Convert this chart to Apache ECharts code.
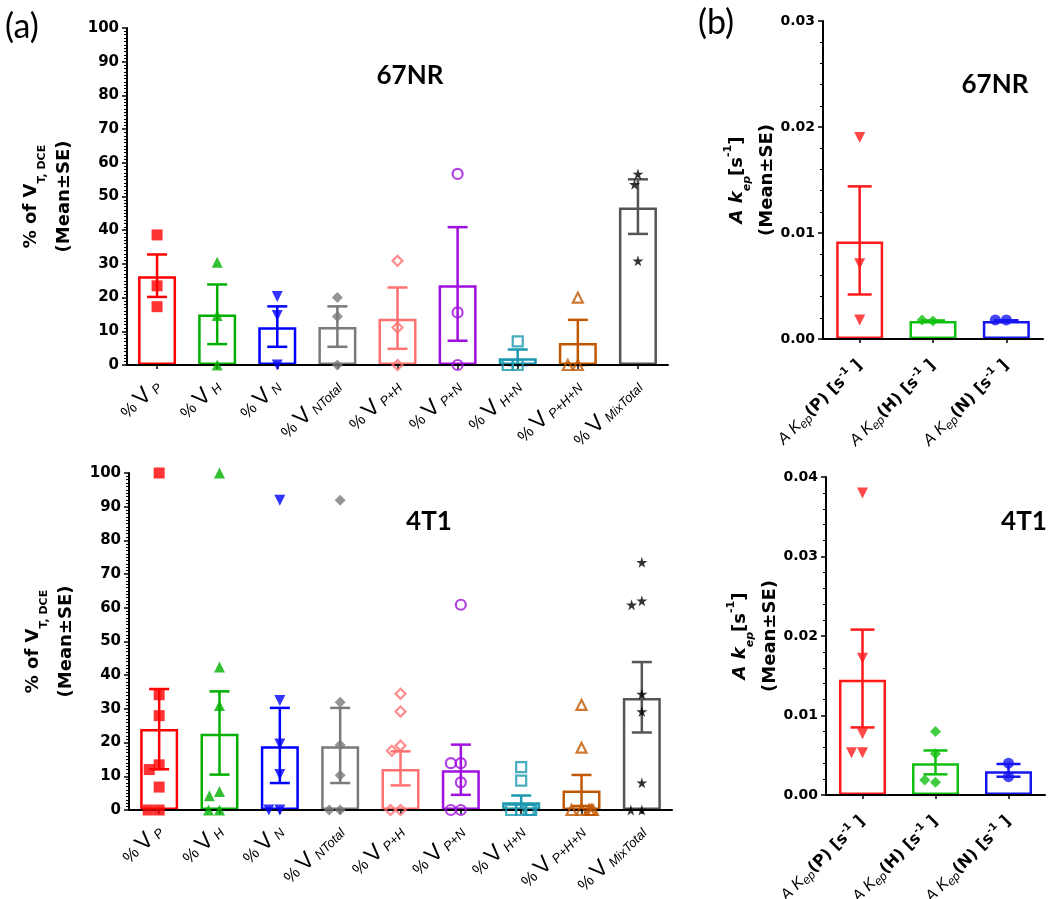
<!DOCTYPE html>
<html><head><meta charset="utf-8">
<script src="https://cdn.jsdelivr.net/npm/echarts@6/dist/echarts.min.js"></script>
<style>html,body{margin:0;padding:0;background:#fff}#c{width:1050px;height:899px}</style>
</head><body><div id="c"></div>
<script>
// ---------- panel (a): categories ----------
const groupsA = ['P','H','N','NTotal','P+H','P+N','H+N','P+H+N','MixTotal'];
const colorsA = ['#FF0000','#00B000','#0000FF','#7A7A7A','#FF7272','#A010E0','#1C98B0','#C05800','#555555'];
const markerColorsA = ['#FF0000','#00B000','#0000FF','#7A7A7A','#FF7272','#A010E0','#1C98B0','#C05800','#000000'];
const STAR = 'path://M50,0 L61,35 L98,35 L68,57 L79,91 L50,70 L21,91 L32,57 L2,35 L39,35 Z';
const symbolsA = ['rect','triangle','triangle','diamond','diamond','circle','rect','triangle',STAR];
const rotateA = [0,0,180,0,0,0,0,0,0];
const hollowA = [false,false,false,false,true,true,true,true,false];

// 67NR (top-left)
const meanA1 = [26.3, 15.0, 11.2, 11.3, 13.7, 23.7, 2.0, 6.5, 46.7];
const lowA1  = [20.2, 6.2, 5.4, 5.4, 4.8, 7.2, 0.0, 0.0, 38.9];
const highA1 = [32.8, 23.9, 17.4, 17.4, 23.0, 40.9, 4.6, 13.4, 55.1];
const ptsA1 = [
  [38.6, 23.5, 17.3],
  [30.5, 14.7, 0],
  [20.3, 14.7, 0],
  [20.0, 14.4, 0],
  [30.9, 11.1, 0],
  [56.7, 15.6, 0],
  [7.0, 0, 0],
  [20.0, 0, 0],
  [56.7, 53.6, 30.9]
];

// 4T1 (bottom-left)
const meanA2 = [24.0, 22.6, 18.9, 18.9, 12.2, 11.8, 2.3, 5.8, 33.2];
const lowA2  = [12.1, 10.5, 8.0, 8.0, 7.3, 4.5, 0.3, 1.2, 23.0];
const highA2 = [35.9, 35.2, 30.3, 30.3, 17.4, 19.4, 4.3, 10.4, 43.9];
const ptsA2 = [
  [100, 34.2, 28.0, 13.4, 12.0, 6.8, 0, 0],
  [100, 42.4, 31.0, 5.5, 4.2, 0, 0],
  [91.9, 32.5, 19.6, 10.5, 0, 0],
  [91.9, 32.0, 19.3, 10.3, 0, 0],
  [34.5, 29.2, 19.1, 17.6, 0, 0],
  [60.9, 13.9, 13.9, 8.2, 0, 0],
  [12.7, 8.7, 0, 0, 0, 0, 0],
  [31.2, 18.5, 0, 0, 0, 0, 0],
  [73.5, 62.1, 60.9, 34.4, 29.2, 8.1, 0, 0]
];

// ---------- panel (b): categories ----------
const groupsB = ['P','H','N'];
const colorsB = ['#FF1A1A','#10C010','#1515F0'];
const symbolsB = ['triangle','diamond','circle'];
const rotateB = [180,0,0];

// 67NR (top-right)
const meanB1 = [0.0092, 0.0017, 0.0017];
const lowB1  = [0.0042, 0.00165, 0.00175];
const highB1 = [0.0144, 0.00175, 0.00175];
const ptsB1 = [[0.0190, 0.0071, 0.0018],[0.0017, 0.0018],[0.0018, 0.0018]];

// 4T1 (bottom-right)
const meanB2 = [0.0145, 0.0040, 0.0030];
const lowB2  = [0.0085, 0.0026, 0.0023];
const highB2 = [0.0208, 0.0056, 0.0039];
const ptsB2 = [[0.0380, 0.0172, 0.0077, 0.0053, 0.0053],[0.0080, 0.0052, 0.0016, 0.0019],[0.0040, 0.0023]];

// axis ranges
const yMaxA = 100, yStepA = 10;
const yMaxB1 = 0.03, yMaxB2 = 0.04, yStepB = 0.01;

// ---------- helpers ----------
const FONT = '"DejaVu Sans"';
const ARIAL = '"Liberation Sans"';
function yAxisCfg(grid, max, step, minorSplit, name, rich, nameGap, labelSize, fmt){
  return {
    gridIndex: grid, type:'value', min:0, max:max, interval:step, z:3,
    axisLine:{show:true, lineStyle:{color:'#000', width:2}},
    axisTick:{show:true, length:5, lineStyle:{color:'#000', width:1.5}},
    minorTick:{show:true, splitNumber:minorSplit, length:3, lineStyle:{color:'#000', width:1}},
    splitLine:{show:false},
    axisLabel:{fontFamily:FONT, fontWeight:'bold', fontSize:labelSize, color:'#000', margin:8, formatter: fmt},
    name: name, nameLocation:'middle', nameRotate:90, nameGap:nameGap,
    nameTextStyle:{fontFamily:FONT, fontWeight:'bold', fontSize:18, color:'#000', rich: rich}
  };
}
const richYA = {
  a:{fontFamily:FONT, fontWeight:'bold', fontSize:18, lineHeight:33, color:'#000'},
  s:{fontFamily:FONT, fontWeight:'bold', fontSize:11, lineHeight:20, verticalAlign:'bottom', color:'#000'}
};
const nameYA = '{a|% of V}{s|T, DCE}\n{a|(Mean±SE)}';
const richYB = {
  a:{fontFamily:FONT, fontWeight:'bold', fontSize:18, lineHeight:30, color:'#000'},
  ai:{fontFamily:FONT, fontWeight:'bold', fontStyle:'italic', fontSize:18, lineHeight:30, color:'#000'},
  s:{fontFamily:FONT, fontWeight:'bold', fontStyle:'italic', fontSize:11, lineHeight:19, verticalAlign:'bottom', color:'#000'},
  sup:{fontFamily:FONT, fontWeight:'bold', fontSize:11, lineHeight:16, verticalAlign:'top', color:'#000'}
};
const nameYB = '{ai|A k}{s|ep}{a|[s}{sup|-1}{a|]}\n{a|(Mean±SE)}';

function xAxisCfg(grid, data, fmt, rich, margin, jitter){
  return {
    gridIndex: grid, type:'category', data: data, z:3,
    jitter: jitter, jitterOverlap:false, jitterMargin:0,
    axisLine:{show:true, lineStyle:{color:'#000', width:2}},
    axisTick:{show:true, alignWithLabel:true, length:4, lineStyle:{color:'#000', width:1.5}},
    splitLine:{show:false},
    axisLabel:{interval:0, rotate:45, margin: margin, formatter: fmt, rich: rich, color:'#000'}
  };
}
const richXA = {
  p:{fontFamily:ARIAL, fontSize:17, lineHeight:22, color:'#000'},
  v:{fontFamily:ARIAL, fontSize:23, lineHeight:22, color:'#000'},
  s:{fontFamily:ARIAL, fontStyle:'italic', fontSize:13, lineHeight:18, verticalAlign:'bottom', color:'#000'}
};
const fmtXA = v => '{p|%} {v|V}{s| ' + v + '}';
const richXB = {
  i:{fontFamily:ARIAL, fontStyle:'italic', fontSize:16, lineHeight:20, color:'#000'},
  s:{fontFamily:ARIAL, fontStyle:'italic', fontSize:12, lineHeight:17, verticalAlign:'bottom', color:'#000'},
  b:{fontFamily:FONT, fontWeight:'bold', fontSize:16, lineHeight:20, color:'#000'},
  sup:{fontFamily:FONT, fontWeight:'bold', fontSize:10, lineHeight:14, verticalAlign:'top', color:'#000'}
};
const fmtXB = v => '{i|A K}{s|ep}{b|(' + v + ') [s}{sup|-1}{b| ]}';

function barSeries(idx, means, colors, width){
  return {
    type:'bar', xAxisIndex:idx, yAxisIndex:idx, barWidth:width, z:2, silent:true,
    data: means.map((m,i)=>({value:m, itemStyle:{color:'rgba(0,0,0,0)', borderColor:colors[i], borderWidth:2.5}}))
  };
}
function errSeries(idx, lows, highs, colors, capW){
  return {
    type:'custom', xAxisIndex:idx, yAxisIndex:idx, z:3, silent:true,
    encode:{x:0, y:[1,2]},
    data: lows.map((l,i)=>[i, l, highs[i]]),
    renderItem: function(params, api){
      const i = api.value(0);
      const top = api.coord([i, api.value(2)]);
      const bot = api.coord([i, api.value(1)]);
      const st = {stroke: colors[params.dataIndex], lineWidth:2.5, fill:null};
      return {type:'group', children:[
        {type:'line', shape:{x1:top[0], y1:top[1], x2:bot[0], y2:bot[1]}, style:st},
        {type:'line', shape:{x1:top[0]-capW/2, y1:top[1], x2:top[0]+capW/2, y2:top[1]}, style:st},
        {type:'line', shape:{x1:bot[0]-capW/2, y1:bot[1], x2:bot[0]+capW/2, y2:bot[1]}, style:st}
      ]};
    }
  };
}
function scatterSeries(idx, pts, colors, symbols, rotates, hollow, size){
  const data = [];
  pts.forEach((arr,i)=>{
    arr.forEach(v=>{
      const h = hollow ? hollow[i] : false;
      data.push({
        value:[i, v], symbol:symbols[i], symbolRotate:rotates[i],
        symbolSize: h ? size-1 : size,
        itemStyle: h ? {color:'rgba(255,255,255,0)', borderColor:colors[i], borderWidth:2.2}
                     : {color:colors[i], borderWidth:0}
      });
    });
  });
  return {type:'scatter', xAxisIndex:idx, yAxisIndex:idx, z:4, silent:true, data:data};
}

const chart = echarts.init(document.getElementById('c'), null, {renderer:'canvas'});
chart.setOption({
  animation:false,
  backgroundColor:'#fff',
  textStyle:{fontFamily:FONT},
  grid:[
    {left:127, top:28, width:541, height:337, containLabel:false, outerBoundsMode:'none'},
    {left:129, top:473, width:543, height:337, containLabel:false, outerBoundsMode:'none'},
    {left:823, top:21, width:220, height:318, containLabel:false, outerBoundsMode:'none'},
    {left:826, top:477, width:219, height:318, containLabel:false, outerBoundsMode:'none'}
  ],
  xAxis:[
    xAxisCfg(0, groupsA, fmtXA, richXA, 18, 30),
    xAxisCfg(1, groupsA, fmtXA, richXA, 18, 30),
    xAxisCfg(2, groupsB, fmtXB, richXB, 24, 40),
    xAxisCfg(3, groupsB, fmtXB, richXB, 24, 40)
  ],
  yAxis:[
    yAxisCfg(0, yMaxA, yStepA, 10, nameYA, richYA, 46, 15),
    yAxisCfg(1, yMaxA, yStepA, 10, nameYA, richYA, 46, 15),
    yAxisCfg(2, yMaxB1, yStepB, 5, nameYB, richYB, 40, 14, v=>v.toFixed(2)),
    yAxisCfg(3, yMaxB2, yStepB, 5, nameYB, richYB, 40, 14, v=>v.toFixed(2))
  ],
  graphic:[
    {type:'text', x:22, y:27, style:{text:'(a)', font:'34px Lato', fill:'#000', align:'center', verticalAlign:'middle'}},
    {type:'text', x:716, y:23, style:{text:'(b)', font:'34px Lato', fill:'#000', align:'center', verticalAlign:'middle'}},
    {type:'text', x:410, y:76, style:{text:'67NR', font:'bold 26px Lato', fill:'#000', align:'center', verticalAlign:'middle'}},
    {type:'text', x:429, y:522, style:{text:'4T1', font:'bold 26px Lato', fill:'#000', align:'center', verticalAlign:'middle'}},
    {type:'text', x:995, y:85, style:{text:'67NR', font:'bold 26px Lato', fill:'#000', align:'center', verticalAlign:'middle'}},
    {type:'text', x:1024, y:522, style:{text:'4T1', font:'bold 26px Lato', fill:'#000', align:'center', verticalAlign:'middle'}}
  ],
  series:[
    barSeries(0, meanA1, colorsA, 38),
    errSeries(0, lowA1, highA1, colorsA, 20),
    scatterSeries(0, ptsA1, markerColorsA, symbolsA, rotateA, hollowA, 11),
    barSeries(1, meanA2, colorsA, 38),
    errSeries(1, lowA2, highA2, colorsA, 20),
    scatterSeries(1, ptsA2, markerColorsA, symbolsA, rotateA, hollowA, 11),
    barSeries(2, meanB1, colorsB, 47),
    errSeries(2, lowB1, highB1, colorsB, 24),
    scatterSeries(2, ptsB1, colorsB, symbolsB, rotateB, null, 11),
    barSeries(3, meanB2, colorsB, 47),
    errSeries(3, lowB2, highB2, colorsB, 24),
    scatterSeries(3, ptsB2, colorsB, symbolsB, rotateB, null, 11)
  ]
});
</script>
</body></html>
